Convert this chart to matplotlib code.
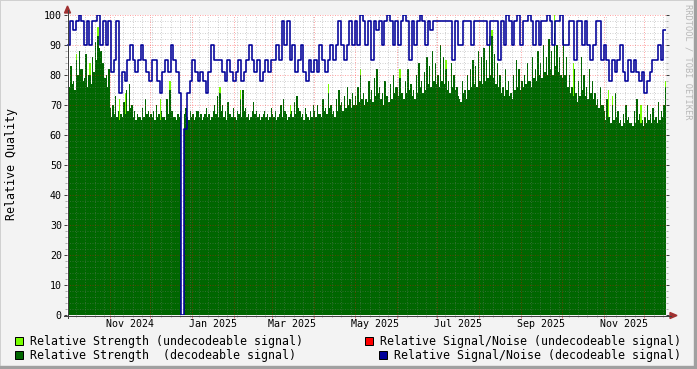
import datetime as dt
import numpy as np
import matplotlib
matplotlib.use("Agg")
import matplotlib.pyplot as plt
from matplotlib.patches import Rectangle, Polygon
from matplotlib.lines import Line2D

W, H, DPI = 697, 369, 100
plt.rcParams["font.family"] = ["DejaVu Sans Mono"]

START = dt.date(2024, 10, 1)
SNR_BIN_DAYS = 2

# relative strength, decodeable signal, daily from 2024-10-01 (None = no data)
strength_decodeable = [
    # Oct 2024
    75, 76, 83, 77, 78, 75, 85, 80, 88, 82, 82, 78, 79, 87, 76, 80,
    80, 77, 86, 81, 91, 85, 93, 89, 88, 84, 84, 79, 80, 76, 82,
    # Nov
    69, 66, 70, 67, 73, 66, 68, 65, 67, 66, 71, 67, 75, 68, 77,
    69, 70, 66, 68, 65, 67, 66, 66, 65, 69, 66, 72, 67, 68, 66,
    # Dec
    67, 66, 68, 65, 70, 66, 67, 65, 68, 66, 66, 65, 72, 67, 75, 68,
    68, 66, 66, 65, 67, 66, 68, None, None, 67, 69, 66, 65, 68, 66,
    # Jan 2025
    67, 65, 66, 68, 68, 66, 67, 65, 66, 67, 69, 66, 67, 65, 66, 68,
    70, 67, 73, 66, 74, 68, 70, 66, 68, 65, 71, 67, 67, 66, 69,
    # Feb
    66, 65, 68, 67, 72, 66, 75, 68, 69, 66, 67, 65, 66, 68,
    71, 67, 68, 66, 67, 65, 66, 67, 68, 66, 67, 65, 66, 69,
    # Mar
    67, 66, 68, 65, 66, 67, 70, 66, 72, 68, 67, 65, 66, 67, 68, 66,
    71, 67, 73, 69, 68, 66, 67, 65, 69, 67, 66, 65, 68, 66, 70,
    # Apr
    68, 66, 70, 67, 67, 66, 72, 68, 69, 67, 74, 69, 70, 67, 68,
    66, 72, 68, 75, 70, 71, 68, 73, 69, 76, 70, 72, 69, 74, 70,
    # May
    73, 70, 76, 71, 80, 72, 74, 70, 72, 71, 78, 72, 75, 71, 79, 73,
    82, 74, 76, 72, 74, 70, 78, 73, 73, 71, 77, 72, 80, 74, 76,
    # Jun
    76, 73, 79, 74, 74, 72, 78, 74, 82, 75, 77, 73, 75, 72, 80,
    74, 84, 76, 78, 74, 81, 75, 86, 77, 83, 76, 88, 78, 84, 77,
    # Jul
    80, 76, 90, 78, 86, 77, 82, 75, 78, 74, 84, 76, 80, 75, 76, 73,
    72, 71, 78, 74, 75, 72, 80, 75, 82, 76, 85, 77, 83, 76, 88,
    # Aug
    78, 86, 77, 89, 78, 85, 79, 90, 80, 93, 79, 87, 77, 84, 76, 80,
    74, 76, 73, 82, 75, 78, 73, 74, 72, 80, 75, 85, 76, 82, 75,
    # Sep
    78, 76, 80, 77, 84, 78, 78, 76, 86, 79, 82, 78, 88, 80, 84,
    79, 90, 81, 86, 80, 92, 82, 88, 80, 94, 83, 90, 81, 86, 80,
    # Oct
    79, 92, 80, 86, 76, 80, 74, 76, 73, 82, 74, 71, 78, 73, 86, 75,
    80, 73, 76, 72, 82, 74, 78, 72, 74, 70, 72, 69, 76, 70, 70,
    # Nov
    68, 65, 72, 66, 66, 64, 70, 65, 74, 66, 68, 64, 65, 63, 67,
    64, 70, 65, 66, 64, 64, 63, 68, 64, 72, 65, 67, 64, 65, 63,
    # Dec
    66, 64, 70, 65, 67, 64, 69, 65, 66, 64, 71, 65, 68, 66, 70, 76,
]

# relative strength, undecodeable signal (only the days where it shows above)
undecodeable_days = [6, 16, 22, 38, 42, 68, 75, 112, 127, 164, 192, 216, 245,
                     279, 311, 313, 359, 366, 373, 399, 402, 423, 441]
undecodeable_strength = [87, 84, 96, 72, 74, 72, 78, 76, 75, 70, 77, 82, 82,
                         85, 93, 95, 100, 95, 84, 75, 73, 70, 78]

# relative signal/noise, decodeable signal (2-day steps)
snr_decodeable = [
    90, 98, 95, 98, 100, 98, 90, 98, 90, 98, 98, 100, 90, 98, 90, 98,        # Oct
    81, 85, 98, 74, 81, 78, 85, 90, 85, 81, 85, 90, 85, 81, 78, 85,          # Nov
    85, 78, 74, 81, 85, 81, 90, 85, 81, 74, 0, 62, 74, 78,                   # Dec
    85, 81, 78, 81, 78, 74, 81, 90, 85, 85, 85, 81, 78, 85, 81,              # Jan
    78, 81, 85, 78, 81, 85, 90, 85, 81, 85, 78, 81, 85, 81, 85,              # Feb
    85, 90, 85, 98, 90, 98, 85, 90, 81, 85, 90, 81, 78, 85, 81,              # Mar
    85, 81, 90, 85, 81, 85, 90, 85, 90, 98, 90, 85, 90, 98, 90,              # Apr
    98, 90, 100, 98, 90, 98, 85, 98, 95, 98, 90, 98, 100, 98, 90,            # May
    98, 90, 98, 100, 98, 85, 98, 90, 98, 100, 98, 90, 98, 95, 98, 98,        # Jun
    98, 98, 98, 98, 98, 85, 98, 90, 90, 98, 98, 98, 90, 98, 98,              # Jul
    98, 98, 98, 90, 98, 98, 98, 85, 98, 90, 100, 98, 90, 98, 100, 90,        # Aug
    98, 98, 100, 98, 90, 98, 90, 98, 98, 100, 98, 90, 98, 98,                # Sep
    100, 90, 90, 98, 98, 85, 98, 98, 90, 98, 90, 85, 90, 98, 98, 85,         # Oct
    90, 85, 78, 85, 81, 85, 90, 81, 78, 85, 81, 85, 81, 78, 81,              # Nov
    74, 78, 81, 85, 85, 90, 85, 95,                                          # Dec
]

month_labels = ["Nov 2024", "Jan 2025", "Mar 2025", "May 2025",
                "Jul 2025", "Sep 2025", "Nov 2025"]
y_ticks = [0, 10, 20, 30, 40, 50, 60, 70, 80, 90, 100]

legend_items = [
    ("Relative Strength (undecodeable signal)", "#77ff00"),
    ("Relative Strength  (decodeable signal)", "#006600"),
    ("Relative Signal/Noise (undecodeable signal)", "#ff0000"),
    ("Relative Signal/Noise (decodeable signal)", "#000099"),
]


def fx(px):
    return px / W


def fy(py):
    return 1 - py / H


fig = plt.figure(figsize=(W / DPI, H / DPI), dpi=DPI, facecolor="#f3f3f3")
ax = fig.add_axes([fx(67), fy(315), (666 - 67) / W, (315 - 15) / H])
ax.set_facecolor("white")

n_days = len(strength_decodeable)
days = np.arange(n_days)
dec = np.array(strength_decodeable, dtype=float)
snr = np.array(snr_decodeable, dtype=float)
snr_x = np.arange(len(snr) + 1) * SNR_BIN_DAYS

ax.bar(undecodeable_days, undecodeable_strength, width=1, align="edge",
       color=legend_items[0][1], linewidth=0, antialiased=False, zorder=1)
ax.bar(days, dec, width=1, align="edge", color=legend_items[1][1],
       linewidth=0, antialiased=False, zorder=1.1)
ax.step(snr_x, np.append(snr, snr[-1]), where="post",
        color=legend_items[3][1], lw=1.15, zorder=3)

ax.set_xlim(-0.5, n_days)
ax.set_ylim(0, 100)

# month grid and weekly minor grid
months = []
d = START
while (d - START).days <= n_days:
    months.append((d - START).days)
    d = dt.date(d.year + d.month // 12, d.month % 12 + 1, 1)
weeks = [k for k in range(6, n_days, 7) if k not in months]
ax.set_xticks(months)
ax.set_xticks(weeks, minor=True)
ax.set_xticklabels([])
ax.set_yticks(y_ticks)
ax.set_yticks(range(0, 101, 2), minor=True)

ax.set_axisbelow(False)
ax.grid(which="minor", color="#808080", alpha=0.35, lw=0.72, linestyle=(0, (1, 1.5)))
ax.grid(which="major", color="#ff0000", alpha=0.35, lw=0.72, linestyle=(0, (1, 1.5)))
for s in ax.spines.values():
    s.set_visible(False)

ax.tick_params(axis="y", which="major", direction="out", length=2.2, width=0.72,
               color="#404040", labelsize=7.2, pad=1.5, right=True)
ax.tick_params(axis="y", which="minor", direction="out", length=1.5, width=0.72,
               color="#b0b0b0", right=True)
ax.tick_params(axis="x", which="major", direction="out", length=2.2, width=0.72,
               color="#e08080")
ax.tick_params(axis="x", which="minor", direction="out", length=1.5, width=0.72,
               color="#b0b0b0")

for lbl in month_labels:
    mid = (dt.datetime.strptime(lbl, "%b %Y").date() - START).days + 15
    ax.annotate(lbl, xy=(mid, 0), xycoords=ax.get_xaxis_transform(),
                xytext=(0, -6.8), textcoords="offset points",
                ha="center", va="center", fontsize=7.2)

# axes with arrows
fig.add_artist(Line2D([fx(67.5), fx(67.5)], [fy(318), fy(10)], color="#404040", lw=0.72))
fig.add_artist(Line2D([fx(64), fx(671)], [fy(315.5), fy(315.5)], color="#404040", lw=0.72))
fig.add_artist(Polygon([[fx(67.5), fy(6)], [fx(64.5), fy(13)], [fx(70.5), fy(13)]],
                       closed=True, color="#a03030", transform=fig.transFigure))
fig.add_artist(Polygon([[fx(677), fy(315.5)], [fx(670), fy(312.5)], [fx(670), fy(318.5)]],
                       closed=True, color="#a03030", transform=fig.transFigure))

fig.text(fx(12), fy(164), "Relative Quality", rotation=90, ha="center", va="center",
         fontsize=8.4)
fig.text(fx(688), fy(4), "RRDTOOL / TOBI OETIKER", rotation=270, ha="center", va="top",
         fontsize=6.2, color="#b8b8b8")

# legend
legend_pos = [(15, 337, 30), (15, 351, 30), (365, 337, 380), (379, 351, 394)]
for (label, color), (bx, by, tx) in zip(legend_items, legend_pos):
    fig.add_artist(Rectangle((fx(bx), fy(by + 8)), 8 / W, 8 / H, facecolor=color,
                             edgecolor="black", lw=0.72, transform=fig.transFigure))
    fig.text(fx(tx), fy(by + 4), label, ha="left", va="center", fontsize=8.4)

# frame shading
fig.add_artist(Rectangle((0, 0), 1, 1, fill=False, edgecolor="#d0d0d0", lw=1.4,
                         transform=fig.transFigure))
fig.add_artist(Rectangle((fx(694), 0), 3 / W, 1, color="#a0a0a0", transform=fig.transFigure))
fig.add_artist(Rectangle((0, 0), 1, 3 / H, color="#a0a0a0", transform=fig.transFigure))

fig.savefig("out.png", dpi=DPI, facecolor=fig.get_facecolor())
